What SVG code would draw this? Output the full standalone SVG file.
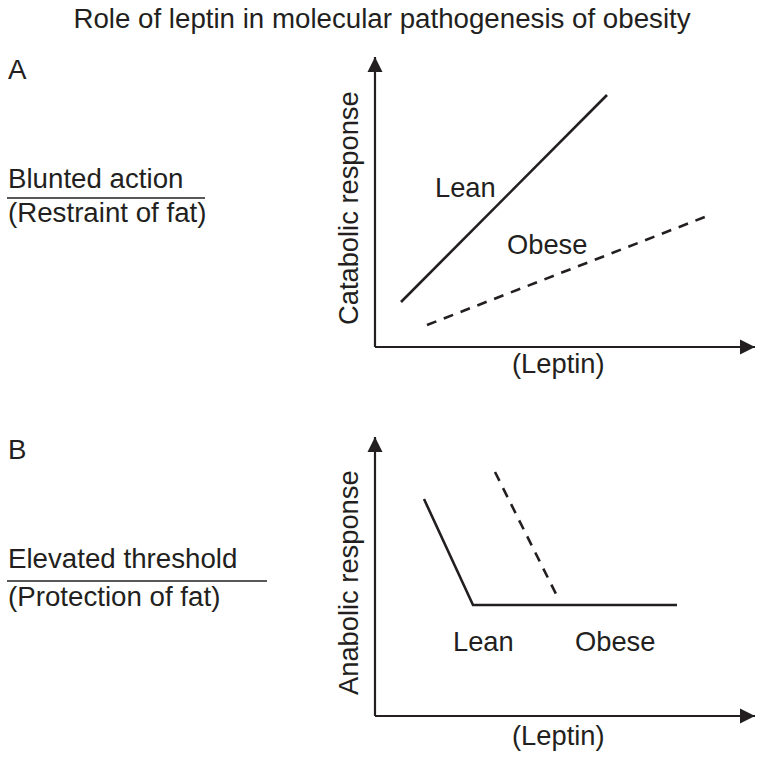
<svg xmlns="http://www.w3.org/2000/svg" width="764" height="761" viewBox="0 0 764 761">
<defs>
<style>
text{font-family:"Liberation Sans",Arial,sans-serif;fill:#231f20;font-size:27.7px}
.g{font-size:27.3px}
.ax{stroke:#231f20;stroke-width:2.2;fill:none}
.ln{stroke:#231f20;stroke-width:2.6;fill:none}
.dash{stroke:#231f20;stroke-width:2.6;fill:none;stroke-dasharray:10 8}
.rule{stroke:#231f20;stroke-width:1.3}
</style>
<marker id="ah" viewBox="0 0 10 10" refX="10" refY="5" markerWidth="7" markerHeight="7" orient="auto" markerUnits="strokeWidth">
<path d="M0,0 L10,5 L0,10 Z" fill="#231f20"/>
</marker>
</defs>
<rect width="764" height="761" fill="#fff"/>
<text id="title" x="382" y="28" text-anchor="middle">Role of leptin in molecular pathogenesis of obesity</text>

<g id="panelA-labels">
<text x="8" y="79">A</text>
<text x="8" y="188">Blunted action</text>
<line class="rule" x1="7" y1="198" x2="205" y2="198"/>
<text x="8" y="222">(Restraint of fat)</text>
</g>
<g id="panelB-labels">
<text x="8" y="459">B</text>
<text x="8" y="568">Elevated threshold</text>
<line class="rule" x1="7" y1="581" x2="267" y2="581"/>
<text x="8" y="606">(Protection of fat)</text>
</g>

<g id="connectors">
<line class="ax" x1="375" y1="347" x2="375" y2="57" marker-end="url(#ah)"/>
<line class="ax" x1="375" y1="347" x2="755" y2="347" marker-end="url(#ah)"/>
<line class="ln" x1="401" y1="302" x2="607" y2="95"/>
<line class="dash" x1="427" y1="325" x2="710" y2="215"/>

<line class="ax" x1="375" y1="716" x2="375" y2="437" marker-end="url(#ah)"/>
<line class="ax" x1="375" y1="716" x2="755" y2="716" marker-end="url(#ah)"/>
<polyline class="ln" points="424,499 473,605 677,605"/>
<line class="dash" x1="495" y1="472" x2="558" y2="598"/>
</g>

<g id="graphA">
<text class="g" transform="translate(358,325) rotate(-90)">Catabolic response</text>
<text class="g" x="435" y="197">Lean</text>
<text class="g" x="507" y="254">Obese</text>
<text class="g" x="512" y="373">(Leptin)</text>
</g>
<g id="graphB">
<text class="g" transform="translate(358,695) rotate(-90)">Anabolic response</text>
<text class="g" x="453" y="651">Lean</text>
<text class="g" x="575" y="651">Obese</text>
<text class="g" x="512" y="745">(Leptin)</text>
</g>
</svg>
